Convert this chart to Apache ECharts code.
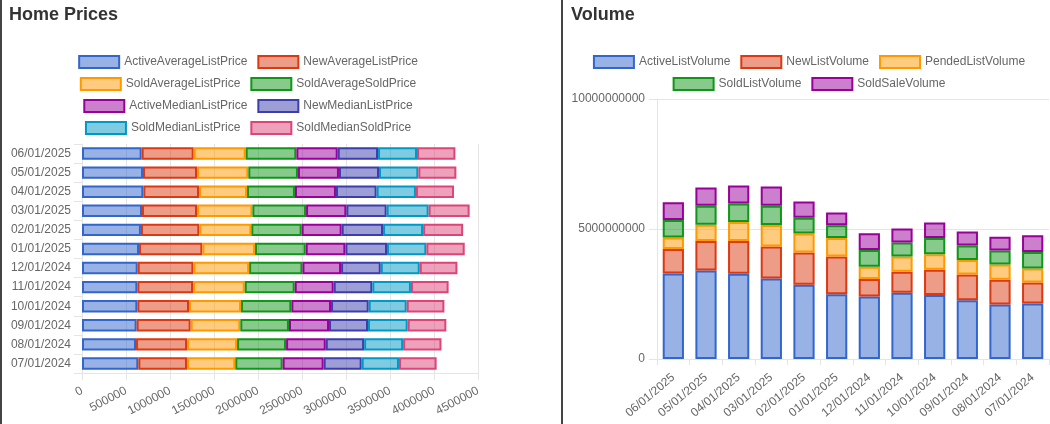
<!DOCTYPE html>
<html>
<head>
<meta charset="utf-8">
<script src="https://cdn.jsdelivr.net/npm/echarts@6/dist/echarts.min.js"></script>
<style>
  html, body { margin: 0; padding: 0; background: #fff; overflow: hidden; }
  .panel { position: absolute; top: 0; height: 424px; }
  .rule { position: absolute; top: 0; width: 2px; height: 424px; background: #444; }
</style>
</head>
<body>
<div class="rule" style="left:0"></div>
<div id="prices" class="panel" style="left:0; width:496px"></div>
<div class="rule" style="left:561px"></div>
<div id="volume" class="panel" style="left:563px; width:492px"></div>
<script>
const months = ['06/01/2025', '05/01/2025', '04/01/2025', '03/01/2025', '02/01/2025', '01/01/2025',
  '12/01/2024', '11/01/2024', '10/01/2024', '09/01/2024', '08/01/2024', '07/01/2024']

// home prices
const activeAverageListPrice = [678000, 693000, 697000, 682000, 670000, 648000, 633000, 629000, 629000, 621000, 614000, 640000]
const newAverageListPrice = [591000, 614000, 633000, 625000, 663000, 720000, 633000, 633000, 587000, 614000, 580000, 553000]
const soldAverageListPrice = [591000, 583000, 545000, 629000, 591000, 598000, 633000, 587000, 591000, 564000, 568000, 549000]
const soldAverageSoldPrice = [576000, 564000, 545000, 610000, 572000, 576000, 606000, 568000, 572000, 553000, 557000, 538000]
const activeMedianListPrice = [470000, 466000, 466000, 458000, 455000, 451000, 439000, 443000, 451000, 455000, 451000, 466000]
const newMedianListPrice = [458000, 455000, 462000, 458000, 470000, 473000, 451000, 439000, 428000, 443000, 436000, 432000]
const soldMedianListPrice = [443000, 447000, 447000, 477000, 455000, 447000, 443000, 439000, 432000, 451000, 443000, 424000]
const soldMedianSoldPrice = [436000, 432000, 432000, 466000, 455000, 436000, 428000, 428000, 428000, 439000, 436000, 428000]

// volume
const activeListVolume = [3290000000, 3400000000, 3280000000, 3100000000, 2860000000, 2490000000, 2400000000, 2550000000, 2460000000, 2260000000, 2100000000, 2130000000]
const newListVolume = [940000000, 1140000000, 1260000000, 1230000000, 1240000000, 1450000000, 680000000, 810000000, 970000000, 990000000, 950000000, 810000000]
const pendedListVolume = [440000000, 620000000, 730000000, 820000000, 730000000, 710000000, 470000000, 580000000, 600000000, 560000000, 580000000, 540000000]
const soldListVolume = [680000000, 730000000, 710000000, 740000000, 600000000, 490000000, 640000000, 540000000, 620000000, 560000000, 540000000, 640000000]
const soldSaleVolume = [680000000, 710000000, 690000000, 740000000, 630000000, 490000000, 650000000, 540000000, 600000000, 530000000, 530000000, 640000000]

const colors = ['#3366cc', '#dc3912', '#ff9900', '#109618', '#990099', '#3b3eac', '#0099c6', '#dd4477']
const font = '"Liberation Sans", Arial, sans-serif'
const gridGray = '#e5e5e5'

function fill(hex) {
  const n = parseInt(hex.slice(1), 16)
  return `rgba(${n >> 16}, ${(n >> 8) & 255}, ${n & 255}, 0.5)`
}

function makeSeries(names, values) {
  return names.map((name, i) => ({
    name,
    type: 'bar',
    stack: 'total',
    barCategoryGap: '35%',
    itemStyle: {
      color: fill(colors[i]),
      borderColor: colors[i],
      borderWidth: 2
    },
    data: values[i]
  }))
}

// one legend per row so every row is centred on its own
function makeLegends(rows, tops) {
  return rows.map((row, i) => ({
    data: row,
    top: tops[i],
    left: 'center',
    padding: 0,
    icon: 'rect',
    itemWidth: 40,
    itemHeight: 12,
    itemGap: 10,
    selectedMode: false,
    textStyle: { color: '#666', fontSize: 12, fontFamily: font }
  }))
}

const noLines = { show: false }

const priceNames = ['ActiveAverageListPrice', 'NewAverageListPrice', 'SoldAverageListPrice', 'SoldAverageSoldPrice',
  'ActiveMedianListPrice', 'NewMedianListPrice', 'SoldMedianListPrice', 'SoldMedianSoldPrice']
const volumeNames = ['ActiveListVolume', 'NewListVolume', 'PendedListVolume', 'SoldListVolume', 'SoldSaleVolume']

const pricesChart = echarts.init(document.getElementById('prices'))
pricesChart.setOption({
  animation: false,
  title: {
    text: 'Home Prices',
    left: 9,
    top: 6,
    padding: 0,
    textStyle: { color: '#333', fontSize: 18, fontWeight: 'bold', fontFamily: font }
  },
  legend: makeLegends([
    priceNames.slice(0, 2), priceNames.slice(2, 4), priceNames.slice(4, 6), priceNames.slice(6, 8)
  ], [55, 77, 99, 121]),
  grid: { left: 82, top: 144, right: 18, bottom: 51, outerBoundsMode: 'none' },
  xAxis: {
    type: 'value',
    min: 0,
    max: 4500000,
    interval: 500000,
    axisLine: { show: true, lineStyle: { color: gridGray } },
    axisTick: { show: true, length: 7, lineStyle: { color: gridGray } },
    splitLine: { show: true, lineStyle: { color: gridGray } },
    axisLabel: { color: '#666', fontSize: 12, fontFamily: font, rotate: 28, margin: 17, formatter: v => String(v) }
  },
  yAxis: {
    type: 'category',
    inverse: true,
    data: months,
    axisLine: { show: true, lineStyle: { color: gridGray } },
    axisTick: { show: true, length: 8, lineStyle: { color: gridGray } },
    splitLine: noLines,
    axisLabel: { color: '#666', fontSize: 12, fontFamily: font, margin: 11 }
  },
  series: makeSeries(priceNames, [
    activeAverageListPrice, newAverageListPrice, soldAverageListPrice, soldAverageSoldPrice,
    activeMedianListPrice, newMedianListPrice, soldMedianListPrice, soldMedianSoldPrice
  ])
})

const volumeChart = echarts.init(document.getElementById('volume'))
volumeChart.setOption({
  animation: false,
  title: {
    text: 'Volume',
    left: 8,
    top: 6,
    padding: 0,
    textStyle: { color: '#333', fontSize: 18, fontWeight: 'bold', fontFamily: font }
  },
  legend: makeLegends([volumeNames.slice(0, 3), volumeNames.slice(3, 5)], [55, 77]),
  grid: { left: 94, top: 99, right: 6, bottom: 65, outerBoundsMode: 'none' },
  xAxis: {
    type: 'category',
    data: months,
    axisLine: { show: true, lineStyle: { color: gridGray } },
    axisTick: { show: true, length: 6, lineStyle: { color: gridGray } },
    splitLine: noLines,
    axisLabel: { color: '#666', fontSize: 12, fontFamily: font, rotate: 40, margin: 17, interval: 0 }
  },
  yAxis: {
    type: 'value',
    min: 0,
    max: 10000000000,
    interval: 5000000000,
    axisLine: { show: true, lineStyle: { color: gridGray } },
    axisTick: { show: true, length: 8, lineStyle: { color: gridGray } },
    splitLine: { show: true, lineStyle: { color: gridGray } },
    axisLabel: { color: '#666', fontSize: 12, fontFamily: font, margin: 12, formatter: v => String(v) }
  },
  series: makeSeries(volumeNames, [
    activeListVolume, newListVolume, pendedListVolume, soldListVolume, soldSaleVolume
  ])
})
</script>
</body>
</html>
